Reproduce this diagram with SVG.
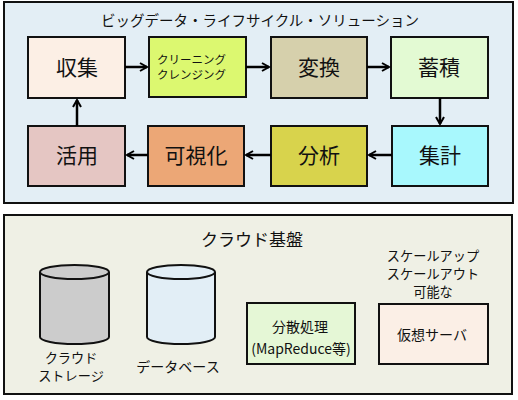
<svg xmlns="http://www.w3.org/2000/svg" width="518" height="400" viewBox="0 0 518 400">
<defs>
<marker id="ah" viewBox="0 0 10 10" refX="8" refY="5" markerWidth="10" markerHeight="10" markerUnits="userSpaceOnUse" orient="auto">
<path d="M1,1 L8,5 L1,9" fill="none" stroke="#000" stroke-width="2"/>
</marker>
</defs>
<style>
text{font-family:"Noto Sans CJK JP","Liberation Sans",sans-serif;fill:#111;}
.panel{stroke:#111;stroke-width:2;}
.box{stroke:#111;stroke-width:2;}
.big{font-size:21px;text-anchor:middle;}
.sm{font-size:11.5px;}
.mid{font-size:14px;text-anchor:middle;}
.tight{font-size:13.2px;text-anchor:middle;}
.conn{stroke:#000;stroke-width:2.5;fill:none;marker-end:url(#ah);}
.cyl{stroke:#111;stroke-width:2;}
</style>
<rect class="panel" x="4" y="2" width="509" height="201" fill="#e3eef5"/>
<text x="260" y="26" style="font-size:14.5px;text-anchor:middle">ビッグデータ・ライフサイクル・ソリューション</text>
<rect class="panel" x="4" y="215" width="508" height="179" fill="#eff0e5"/>
<text x="252" y="246" style="font-size:17px;text-anchor:middle">クラウド基盤</text>

<g id="collect"><rect class="box" x="28" y="37" width="97" height="61" fill="#fcefe5"/><text class="big" x="77" y="75">収集</text></g>
<g id="cleansing"><rect class="box" x="149" y="37" width="97" height="60" fill="#dcf870"/><text class="sm" x="157" y="64">クリーニング</text><text class="sm" x="157" y="79">クレンジング</text></g>
<g id="convert"><rect class="box" x="271" y="37" width="96" height="61" fill="#d6d0ac"/><text class="big" x="319" y="75">変換</text></g>
<g id="store"><rect class="box" x="391" y="37" width="97" height="61" fill="#e3fad3"/><text class="big" x="439" y="75">蓄積</text></g>
<g id="use"><rect class="box" x="28" y="126" width="97" height="60" fill="#e5c6c3"/><text class="big" x="77" y="163">活用</text></g>
<g id="visualize"><rect class="box" x="148" y="126" width="96" height="60" fill="#eca776"/><text class="big" x="196" y="163">可視化</text></g>
<g id="analyze"><rect class="box" x="271" y="126" width="96" height="60" fill="#d8d34c"/><text class="big" x="319" y="163">分析</text></g>
<g id="aggregate"><rect class="box" x="392" y="126" width="96" height="60" fill="#a8f8fd"/><text class="big" x="440" y="163">集計</text></g>

<g id="connectors">
<line class="conn" x1="125" y1="67" x2="147" y2="67"/>
<line class="conn" x1="246" y1="67" x2="269" y2="67"/>
<line class="conn" x1="367" y1="67" x2="389" y2="67"/>
<line class="conn" x1="440" y1="98" x2="440" y2="124"/>
<line class="conn" x1="392" y1="155" x2="369" y2="155"/>
<line class="conn" x1="271" y1="155" x2="246" y2="155"/>
<line class="conn" x1="148" y1="155" x2="127" y2="155"/>
<line class="conn" x1="77" y1="126" x2="77" y2="100"/>
</g>

<g id="cloud-storage">
<path class="cyl" d="M40,272 L40,337 A34.5,7 0 0 0 109,337 L109,272" fill="#cccccc"/>
<ellipse class="cyl" cx="74.5" cy="272" rx="34.5" ry="7" fill="#cccccc"/>
<text class="tight" x="71" y="363">クラウド</text>
<text class="tight" x="71" y="381">ストレージ</text>
</g>
<g id="database">
<path class="cyl" d="M147,272 L147,337 A34,7 0 0 0 215,337 L215,272" fill="#e2eef6"/>
<ellipse class="cyl" cx="181" cy="272" rx="34" ry="7" fill="#e2eef6"/>
<text class="mid" x="178" y="372">データベース</text>
</g>
<g id="distributed">
<rect class="box" x="247" y="303" width="108" height="61" fill="#e5f7d6"/>
<text class="mid" x="300" y="332">分散処理</text>
<text class="mid" x="301" y="354">(MapReduce等)</text>
</g>
<g id="vserver">
<text class="tight" x="433" y="261">スケールアップ</text>
<text class="tight" x="433" y="279">スケールアウト</text>
<text class="tight" x="433" y="297">可能な</text>
<rect class="box" x="379" y="304" width="109" height="60" fill="#fbefe6"/>
<text class="mid" x="432" y="340">仮想サーバ</text>
</g>
</svg>
